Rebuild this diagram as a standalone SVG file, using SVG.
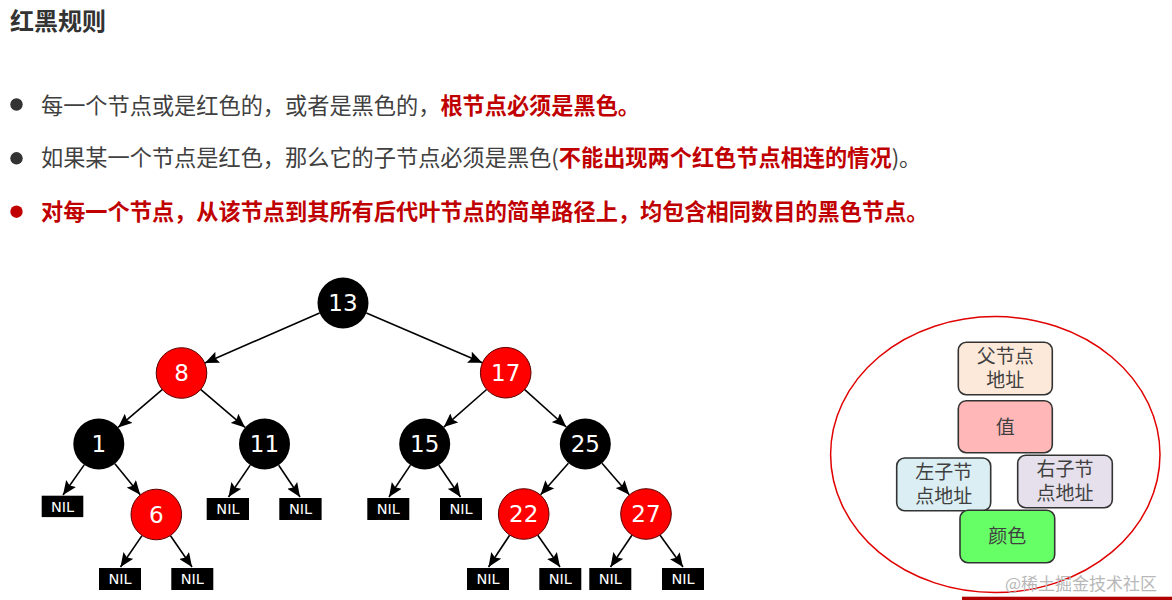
<svg xmlns="http://www.w3.org/2000/svg" width="1172" height="600" viewBox="0 0 1172 600">
<style>
.title{font-family:"Noto Sans CJK SC","Liberation Sans",sans-serif;font-size:24px;font-weight:bold;fill:#333}
.rule{font-family:"Noto Sans CJK SC","Liberation Sans",sans-serif;font-size:22.2px;fill:#404040}
.em{fill:#c00000;font-weight:bold}
.blk{fill:#000}
.red{fill:#ff0000;stroke:#5a0000;stroke-width:1}
.num{font-family:"DejaVu Sans",sans-serif;font-size:23px;fill:#fff;text-anchor:middle}
.nilbox{fill:#000}
.nil{font-family:"DejaVu Sans",sans-serif;font-size:14.5px;fill:#fff;text-anchor:middle}
.edge{stroke:#000;stroke-width:1.6;fill:none;marker-end:url(#ah)}
.box{stroke:#333;stroke-width:1.6}
.bt{font-family:"Noto Sans CJK SC","Liberation Sans",sans-serif;font-size:19px;fill:#404040;text-anchor:middle}
</style>
<defs>
<marker id="ah" markerUnits="userSpaceOnUse" markerWidth="16" markerHeight="12" refX="14" refY="6" orient="auto">
<path d="M0,0 L14,6 L0,12 L2.5,6 z" fill="#000"/>
</marker>
</defs>
<rect width="1172" height="600" fill="#fff"/>

<g id="heading">
<text class="title" x="10" y="30">红黑规则</text>
</g>
<g id="rules">
<circle cx="16.5" cy="104.5" r="6.2" fill="#333"/>
<text class="rule" x="41" y="114">每一个节点或是红色的，或者是黑色的，<tspan class="em">根节点必须是黑色。</tspan></text>
<circle cx="16.5" cy="158.3" r="6.2" fill="#333"/>
<text class="rule" x="41" y="166">如果某一个节点是红色，那么它的子节点必须是黑色(<tspan class="em">不能出现两个红色节点相连的情况</tspan>)。</text>
<circle cx="16.5" cy="211.7" r="6.2" fill="#c00000"/>
<text class="rule em" x="41" y="220">对每一个节点，从该节点到其所有后代叶节点的简单路径上，均包含相同数目的黑色节点。</text>
</g>

<g id="connectors">
<line class="edge" x1="319.6" y1="313.1" x2="204.9" y2="362.9"/>
<line class="edge" x1="366.4" y1="313.0" x2="482.3" y2="362.7"/>
<line class="edge" x1="162.2" y1="389.6" x2="118.1" y2="427.4"/>
<line class="edge" x1="200.9" y1="389.6" x2="245.1" y2="427.4"/>
<line class="edge" x1="486.6" y1="389.5" x2="443.8" y2="427.1"/>
<line class="edge" x1="524.7" y1="389.7" x2="566.3" y2="427.0"/>
<line class="edge" x1="84.2" y1="464.9" x2="63" y2="495"/>
<line class="edge" x1="114.9" y1="463.8" x2="140.2" y2="494.7"/>
<line class="edge" x1="250.2" y1="465.1" x2="228.5" y2="497"/>
<line class="edge" x1="278.7" y1="465.2" x2="300" y2="497"/>
<line class="edge" x1="410.4" y1="465.1" x2="389" y2="497"/>
<line class="edge" x1="438.9" y1="465.2" x2="460.5" y2="497"/>
<line class="edge" x1="568.4" y1="463.2" x2="540.6" y2="494.8"/>
<line class="edge" x1="602" y1="463.3" x2="629.3" y2="494.7"/>
<line class="edge" x1="142" y1="535.6" x2="120.5" y2="567"/>
<line class="edge" x1="170.5" y1="535.7" x2="192" y2="567"/>
<line class="edge" x1="509.6" y1="535.3" x2="488.5" y2="567"/>
<line class="edge" x1="537.8" y1="535.3" x2="560" y2="567"/>
<line class="edge" x1="631.9" y1="535.3" x2="610.5" y2="567"/>
<line class="edge" x1="660.1" y1="535.3" x2="683" y2="567"/>
</g>

<g id="n13"><circle class="blk" cx="343" cy="303" r="25.5"/><text class="num" x="343" y="311.4">13</text></g>
<g id="n8"><circle class="red" cx="181.5" cy="373" r="25.3"/><text class="num" x="181.5" y="381.4">8</text></g>
<g id="n17"><circle class="red" cx="505.7" cy="372.7" r="25.3"/><text class="num" x="505.7" y="381.1">17</text></g>
<g id="n1"><circle class="blk" cx="98.8" cy="444" r="25.5"/><text class="num" x="98.8" y="452.4">1</text></g>
<g id="n11"><circle class="blk" cx="264.5" cy="444" r="25.5"/><text class="num" x="264.5" y="452.4">11</text></g>
<g id="n15"><circle class="blk" cx="424.7" cy="444" r="25.5"/><text class="num" x="424.7" y="452.4">15</text></g>
<g id="n25"><circle class="blk" cx="585.3" cy="444" r="25.5"/><text class="num" x="585.3" y="452.4">25</text></g>
<g id="n6"><circle class="red" cx="156.3" cy="514.5" r="25.3"/><text class="num" x="156.3" y="522.9">6</text></g>
<g id="n22"><circle class="red" cx="523.7" cy="514" r="25.3"/><text class="num" x="523.7" y="522.4">22</text></g>
<g id="n27"><circle class="red" cx="646" cy="514" r="25.3"/><text class="num" x="646" y="522.4">27</text></g>

<g id="nil1"><rect class="nilbox" x="41.7" y="495.7" width="41.6" height="21.4"/><text class="nil" x="62.5" y="511.6">NIL</text></g>
<g id="nil2"><rect class="nilbox" x="206.7" y="498" width="42.3" height="22"/><text class="nil" x="227.9" y="514.2">NIL</text></g>
<g id="nil3"><rect class="nilbox" x="279.3" y="498" width="42.3" height="22"/><text class="nil" x="300.5" y="514.2">NIL</text></g>
<g id="nil4"><rect class="nilbox" x="367.3" y="498" width="42" height="22"/><text class="nil" x="388.3" y="514.2">NIL</text></g>
<g id="nil5"><rect class="nilbox" x="440" y="498" width="42" height="22"/><text class="nil" x="461" y="514.2">NIL</text></g>
<g id="nil6"><rect class="nilbox" x="99" y="568" width="42" height="22"/><text class="nil" x="120" y="584.2">NIL</text></g>
<g id="nil7"><rect class="nilbox" x="171.3" y="568" width="42" height="22"/><text class="nil" x="192.3" y="584.2">NIL</text></g>
<g id="nil8"><rect class="nilbox" x="467" y="568" width="42" height="22"/><text class="nil" x="488" y="584.2">NIL</text></g>
<g id="nil9"><rect class="nilbox" x="539.3" y="568" width="42" height="22"/><text class="nil" x="560.3" y="584.2">NIL</text></g>
<g id="nil10"><rect class="nilbox" x="589.3" y="568" width="42" height="22"/><text class="nil" x="610.3" y="584.2">NIL</text></g>
<g id="nil11"><rect class="nilbox" x="662" y="568" width="42" height="22"/><text class="nil" x="683" y="584.2">NIL</text></g>

<g id="node-structure">
<ellipse cx="995.3" cy="454.6" rx="164.7" ry="138" fill="none" stroke="#e00000" stroke-width="1.5"/>
</g>
<g id="parent-addr"><rect class="box" x="958.3" y="342.3" width="94" height="52.4" rx="8" fill="#fce9d9"/><text class="bt" x="1005.3" y="363">父节点<tspan x="1005.3" dy="24">地址</tspan></text></g>
<g id="value"><rect class="box" x="958.3" y="400.7" width="94" height="52" rx="8" fill="#ffb7b7"/><text class="bt" x="1005.3" y="433.5">值</text></g>
<g id="left-addr"><rect class="box" x="896.7" y="458" width="94" height="52.7" rx="8" fill="#daeef3"/><text class="bt" x="943.7" y="478.5">左子节<tspan x="943.7" dy="24">点地址</tspan></text></g>
<g id="right-addr"><rect class="box" x="1017.7" y="455.3" width="94.6" height="52.4" rx="8" fill="#e5e0ec"/><text class="bt" x="1065" y="476">右子节<tspan x="1065" dy="24">点地址</tspan></text></g>
<g id="color"><rect class="box" x="960" y="510.3" width="94.7" height="52.4" rx="8" fill="#66ff66"/><text class="bt" x="1007.3" y="543">颜色</text></g>

<rect x="962" y="596.7" width="210" height="3.3" fill="#b00000"/>
<text x="1005" y="590" font-family="Noto Sans CJK SC, sans-serif" font-size="17" fill="#b8b8b8">@稀土掘金技术社区</text>
</svg>
